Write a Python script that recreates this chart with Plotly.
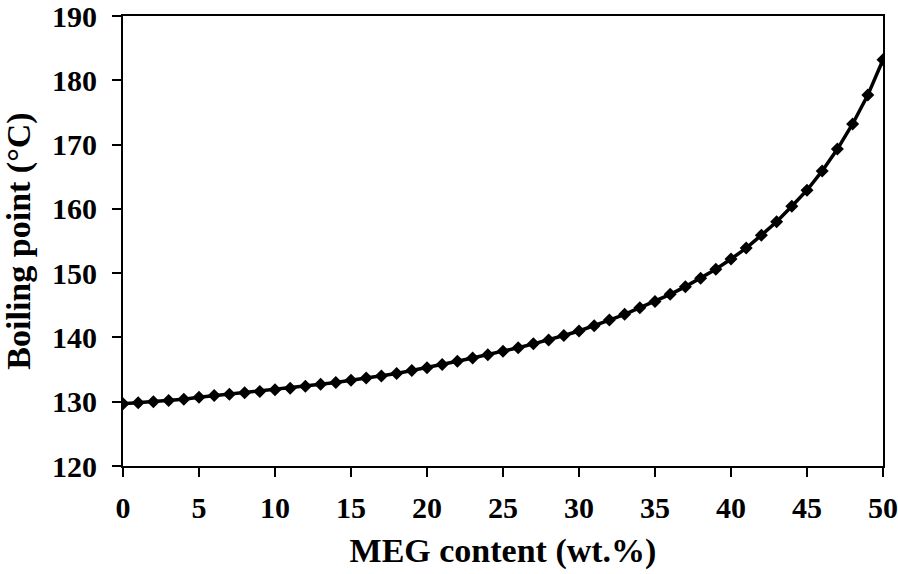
import plotly.graph_objects as go

# MEG content (wt.%) and boiling point (°C)
meg_content = list(range(0, 51))
boiling_point = [
    129.7, 129.85, 130.0, 130.2, 130.4, 130.7, 130.95, 131.15, 131.4, 131.6,
    131.85, 132.1, 132.4, 132.7, 133.0, 133.35, 133.7, 134.0, 134.4, 134.85,
    135.3, 135.8, 136.3, 136.8, 137.3, 137.85, 138.4, 139.0, 139.6, 140.3,
    141.0, 141.8, 142.7, 143.6, 144.6, 145.6, 146.7, 147.9, 149.2, 150.6,
    152.2, 153.9, 155.9, 158.0, 160.4, 162.9, 165.9, 169.3, 173.2, 177.7,
    183.2,
]

x_ticks = [0, 5, 10, 15, 20, 25, 30, 35, 40, 45, 50]
y_ticks = [120, 130, 140, 150, 160, 170, 180, 190]

font_face = "Liberation Serif"

fig = go.Figure()

fig.add_trace(go.Scatter(x=meg_content, y=boiling_point, mode='lines+markers',
                         line=dict(color='black', width=3.5),
                         marker=dict(symbol='diamond', size=10, color='black'),
                         showlegend=False))

axis_common = dict(showgrid=False, zeroline=False, showline=True, automargin=False,
                   linecolor='black', linewidth=2, mirror=True,
                   ticks='outside', ticklen=9, tickwidth=2, tickcolor='black',
                   ticklabeloverflow='allow',
                   tickfont=dict(family=font_face, size=30, color='black', weight='bold'),
                   title_font=dict(family=font_face, size=34, color='black', weight='bold'))

fig.update_xaxes(range=[0, 50], tickvals=x_ticks, ticklabelstandoff=5,
                 title_text="MEG content (wt.%)", **axis_common)
fig.update_yaxes(range=[120, 190], tickvals=y_ticks, ticklabelstandoff=9,
                 title_text="Boiling point (°C)", title_standoff=20, **axis_common)

fig.update_layout(width=898, height=574, plot_bgcolor='white', paper_bgcolor='white',
                  margin=dict(l=123, r=15, t=16, b=108))

# drop the page's default body margin so the figure fills the window
fig.write_html("out.html", config={'displayModeBar': False},
               post_script="document.body.style.margin='0px';")
